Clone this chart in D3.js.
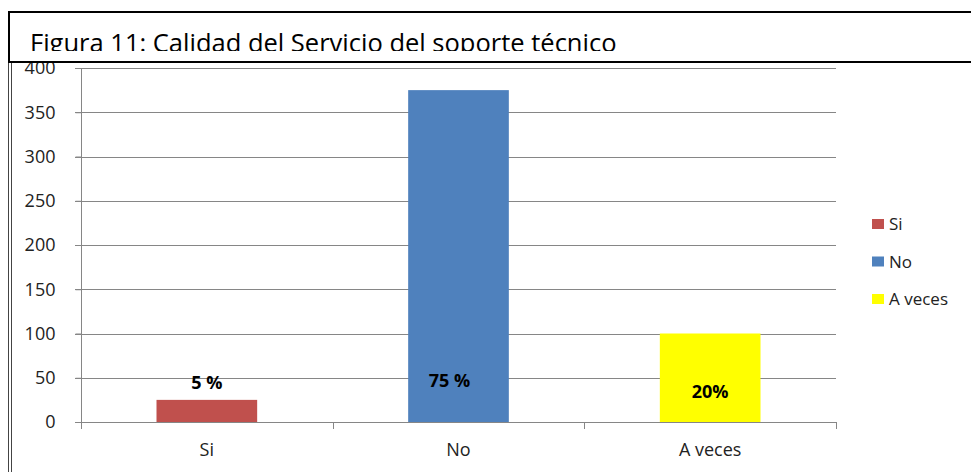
<!DOCTYPE html>
<html>
<head>
<meta charset="utf-8">
<script src="https://cdn.jsdelivr.net/npm/d3@7"></script>
<style>
  body { margin: 0; background: #fff; }
  svg { display: block; font-family: "Open Sans", "Noto Sans", sans-serif; }
</style>
</head>
<body>
<div id="chart"></div>
<script>
// data
var categories = ["Si", "No", "A veces"];
var counts = [25, 375, 100];
var percentLabels = ["5 %", "75 %", "20%"];
var colors = ["#C0504D", "#4F81BD", "#FFFF00"];
var yTicks = [0, 50, 100, 150, 200, 250, 300, 350, 400];
var title = "Figura 11: Calidad del Servicio del soporte técnico";

var width = 971, height = 472;
var margin = {left: 81, right: 135, top: 68, bottom: 50};

var svg = d3.select("#chart").append("svg")
  .attr("width", width)
  .attr("height", height);

var x = d3.scaleBand()
  .domain(categories)
  .range([margin.left, width - margin.right])
  .paddingInner(0.6)
  .paddingOuter(0.3);

var y = d3.scaleLinear()
  .domain([0, 400])
  .range([height - margin.bottom, margin.top]);

// gridlines
svg.append("g")
  .selectAll("line")
  .data(yTicks)
  .enter().append("line")
    .attr("x1", margin.left - 6)
    .attr("x2", width - margin.right)
    .attr("y1", function(d) { return Math.round(y(d)) + 0.5; })
    .attr("y2", function(d) { return Math.round(y(d)) + 0.5; })
    .attr("stroke", "#868686")
    .attr("stroke-width", 1);

// y axis
var yAxis = svg.append("g")
  .attr("transform", "translate(" + (margin.left + 0.5) + ",0)")
  .call(d3.axisLeft(y).tickValues(yTicks).tickSize(6).tickPadding(20));
yAxis.select(".domain").attr("stroke", "#868686").attr("d", "M0," + y(400) + "V" + y(0));
yAxis.selectAll(".tick line").attr("stroke", "#868686");
yAxis.selectAll("text")
  .attr("font-size", "18px")
  .attr("font-family", "\"Open Sans\", sans-serif")
  .attr("fill", "#222");

// bars
svg.append("g")
  .selectAll("rect")
  .data(categories)
  .enter().append("rect")
    .attr("x", function(d) { return x(d); })
    .attr("y", function(d, i) { return y(counts[i]); })
    .attr("width", x.bandwidth())
    .attr("height", function(d, i) { return y(0) - y(counts[i]); })
    .attr("fill", function(d, i) { return colors[i]; });

// x axis line and category separators
var x0 = margin.left;
var xEnd = width - margin.right;
svg.append("line")
  .attr("x1", x0).attr("x2", xEnd)
  .attr("y1", Math.round(y(0)) + 0.5).attr("y2", Math.round(y(0)) + 0.5)
  .attr("stroke", "#868686");
var seps = d3.range(categories.length + 1).map(function(i) {
  return x0 + i * (xEnd - x0) / categories.length;
});
svg.append("g")
  .selectAll("line")
  .data(seps)
  .enter().append("line")
    .attr("x1", function(d) { return Math.round(d) + 0.5; })
    .attr("x2", function(d) { return Math.round(d) + 0.5; })
    .attr("y1", y(0))
    .attr("y2", y(0) + 7)
    .attr("stroke", "#868686");

svg.append("g")
  .selectAll("text")
  .data(categories)
  .enter().append("text")
    .attr("x", function(d) { return x(d) + x.bandwidth() / 2; })
    .attr("y", y(0) + 34)
    .attr("text-anchor", "middle")
    .attr("font-size", "18px")
    .attr("fill", "#222")
    .text(function(d) { return d; });

// percentage labels
var labelY = [389, 387, 398];
var labelDx = [0, -9, 0];
svg.append("g")
  .selectAll("text")
  .data(percentLabels)
  .enter().append("text")
    .attr("x", function(d, i) { return x(categories[i]) + x.bandwidth() / 2 + labelDx[i]; })
    .attr("y", function(d, i) { return labelY[i]; })
    .attr("text-anchor", "middle")
    .attr("font-size", "18px")
    .attr("font-weight", "bold")
    .attr("fill", "#000")
    .text(function(d) { return d; });

// legend
var legend = svg.append("g")
  .selectAll("g")
  .data(categories)
  .enter().append("g")
    .attr("transform", function(d, i) { return "translate(872," + (224 + i * 37.5) + ")"; });
legend.append("rect")
  .attr("x", 0).attr("y", -5)
  .attr("width", 12).attr("height", 10)
  .attr("fill", function(d, i) { return colors[i]; });
legend.append("text")
  .attr("x", 17).attr("y", 6)
  .attr("font-size", "17px")
  .attr("fill", "#222")
  .text(function(d) { return d; });

// outer border, double line on the left
svg.append("line").attr("x1", 8.5).attr("x2", 8.5).attr("y1", 62).attr("y2", height)
  .attr("stroke", "#444").attr("stroke-width", 1);
svg.append("line").attr("x1", 11.5).attr("x2", 11.5).attr("y1", 62).attr("y2", height)
  .attr("stroke", "#444").attr("stroke-width", 1);

// title box on top (it hides the top of the 400 label)
svg.append("defs").append("clipPath")
  .attr("id", "titleClip")
  .append("rect")
    .attr("x", 10).attr("y", 13)
    .attr("width", width).attr("height", 38);
svg.append("rect")
  .attr("x", 9).attr("y", 12)
  .attr("width", width).attr("height", 50)
  .attr("fill", "#fff")
  .attr("stroke", "#000")
  .attr("stroke-width", 2);
svg.append("text")
  .attr("x", 30).attr("y", 52)
  .attr("clip-path", "url(#titleClip)")
  .attr("font-size", "25.5px")
  .attr("font-family", "\"Open Sans\", sans-serif")
  .attr("fill", "#000")
  .text(title);
</script>
</body>
</html>
